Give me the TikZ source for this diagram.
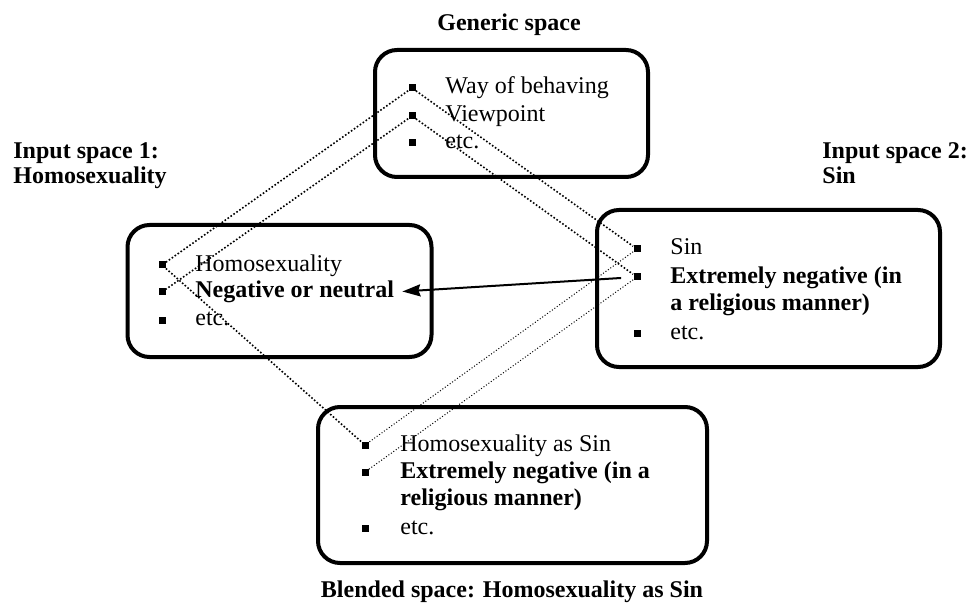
\documentclass[tikz,border=0pt]{standalone}
\usepackage{fontspec}
\setmainfont{Liberation Serif}
\usetikzlibrary{arrows.meta}
\tikzset{
    common/.style={inner sep=0pt, font=\fontsize{12}{13.8}\selectfont},
    space/.style={draw, line width=2pt, rounded corners=11pt, inner sep=0pt},
    bullet/.style={fill, rectangle, inner sep=0pt, minimum size=3.5pt},
    item/.style={common, anchor=west, text height=8.5pt, text depth=2.5pt},
    items/.style={common, anchor=base west, align=left},
    title/.style={common, font=\fontsize{12}{12.5}\selectfont\bfseries, align=left},
    map/.style={densely dotted, line width=0.8pt},
    fine-map/.style={densely dotted, line width=0.5pt},
    link/.style={-{Stealth[length=9pt, width=6pt, inset=1pt]}, line width=1pt}
}
\begin{document}
\begin{tikzpicture}[x=0.5pt, y=-0.5pt]
    \useasboundingbox (0,0) rectangle (969,604);

    % the four spaces
    \node[space, minimum width=136.5pt, minimum height=63.5pt] (generic) at (511.5,113.5) {};
    \node[space, minimum width=152pt, minimum height=66pt] (input1) at (279.5,291) {};
    \node[space, minimum width=171.5pt, minimum height=78.5pt] (input2) at (768.5,288.5) {};
    \node[space, minimum width=194.5pt, minimum height=78pt] (blend) at (512.5,485) {};

    % titles (base = last line)
    \node[title, anchor=base] (generic-title) at (509,31) {Generic space};
    \node[title, anchor=base west] (input1-title) at (13,184) {Input space 1:\\Homosexuality};
    \node[title, anchor=base west] (input2-title) at (822,184) {Input space 2:\\Sin};
    \node[title, anchor=base] (blend-title) at (512,597) {Blended space: Homosexuality as Sin};

    % generic space
    \node[bullet] (g1) at (412,88) {};
    \node[bullet] (g2) at (412,116) {};
    \node[bullet] (g3) at (412,143) {};
    \node[item] (g1-text) at (445,88) {Way of behaving};
    \node[item] (g2-text) at (445,116) {Viewpoint};
    \node[item] (g3-text) at (445,143) {etc.};

    % input space 1
    \node[bullet] (a1) at (162,265) {};
    \node[bullet] (a2) at (162,292) {};
    \node[bullet] (a3) at (162,320) {};
    \node[item] (a1-text) at (195,265) {Homosexuality};
    \node[item] (a2-text) at (195,292) {\textbf{Negative or neutral}};
    \node[item] (a3-text) at (195,320) {etc.};

    % input space 2
    \node[bullet] (b1) at (637,249) {};
    \node[bullet] (b2) at (637,277) {};
    \node[bullet] (b3) at (637,333) {};
    \node[item] (b1-text) at (670,249) {Sin};
    \node[items] (b2-text) at (670,310.6) {\textbf{Extremely negative (in}\\\textbf{a religious manner)}};
    \node[item] (b3-text) at (670,333) {etc.};

    % blended space
    \node[bullet] (c1) at (365,445) {};
    \node[bullet] (c2) at (365,472) {};
    \node[bullet] (c3) at (365,528) {};
    \node[item] (c1-text) at (400,445) {Homosexuality as Sin};
    \node[items] (c2-text) at (400,505.6) {\textbf{Extremely negative (in a}\\\textbf{religious manner)}};
    \node[item] (c3-text) at (400,528) {etc.};

    % mappings
    \draw[map] (g1) -- (a1);
    \draw[map] (g2) -- (a2);
    \draw[map] (g1) -- (b1);
    \draw[map] (g2) -- (b2);
    \draw[map] (a1) -- (c1);
    \draw[fine-map] (b1) -- (c1);
    \draw[fine-map] (b2) -- (c2);

    \draw[link, shorten <=6pt, shorten >=4pt] (b2) -- (a2-text.east);
\end{tikzpicture}
\end{document}
